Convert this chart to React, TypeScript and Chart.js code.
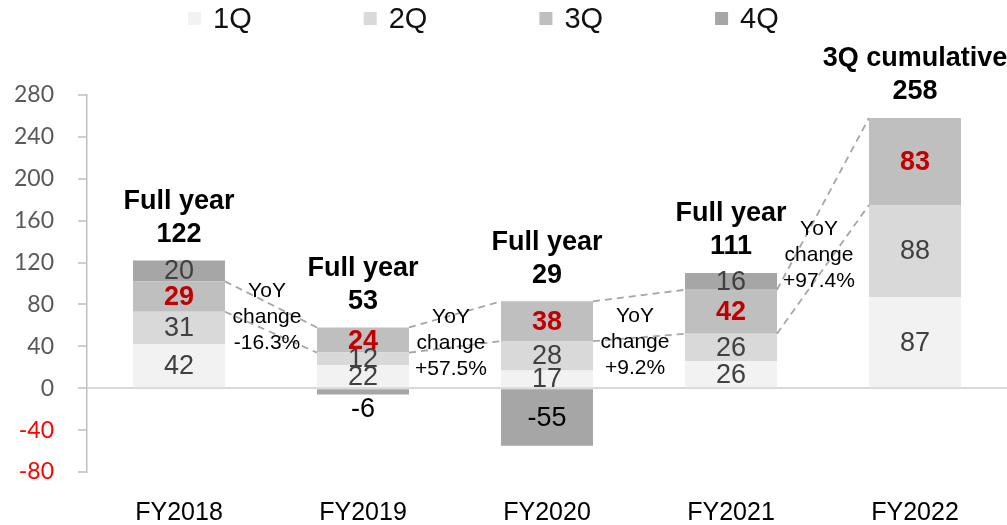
import React, { useEffect, useRef } from "react";
import { Chart, registerables } from "chart.js";

Chart.register(...registerables);

const categories = ["FY2018", "FY2019", "FY2020", "FY2021", "FY2022"];
const seriesNames = ["1Q", "2Q", "3Q", "4Q"];
const q1 = [42, 22, 17, 26, 87];
const q2 = [31, 12, 28, 26, 88];
const q3 = [29, 24, 38, 42, 83];
const q4 = [20, -6, -55, 16, null];
const totalTitles = ["Full year", "Full year", "Full year", "Full year", "3Q cumulative"];
const totals = [122, 53, 29, 111, 258];
const yoyChanges = ["-16.3%", "+57.5%", "+9.2%", "+97.4%"];
const yoyLabelAt = [68, 43, 44, 127];
const yMin = -80;
const yMax = 280;
const yStep = 40;

const seriesColors = ["#f2f2f2", "#d9d9d9", "#bfbfbf", "#a6a6a6"];
const FONT = "'Liberation Sans', Arial, sans-serif";

const annotPlugin = {
  id: "annot",
  afterDatasetsDraw(chart: any) {
    const ctx = chart.ctx as CanvasRenderingContext2D;
    const ys = chart.scales.y;
    const metas = chart.data.datasets.map((_: any, i: number) => chart.getDatasetMeta(i));
    ctx.save();

    // dashed connector lines (top of 3Q cumulative and 2Q cumulative)
    ctx.strokeStyle = "#a6a6a6";
    ctx.lineWidth = 1.8;
    ctx.setLineDash([7, 5]);
    for (let i = 0; i < categories.length - 1; i++) {
      for (const d of [2, 1]) {
        const a = metas[d].data[i];
        const b = metas[d].data[i + 1];
        ctx.beginPath();
        ctx.moveTo(a.x + a.width / 2, a.y);
        ctx.lineTo(b.x - b.width / 2, b.y);
        ctx.stroke();
      }
    }
    ctx.setLineDash([]);

    // segment labels
    ctx.textAlign = "center";
    ctx.textBaseline = "middle";
    chart.data.datasets.forEach((ds: any, d: number) => {
      metas[d].data.forEach((el: any, i: number) => {
        const v = ds.data[i];
        if (v === null || v === undefined) return;
        let y = (el.y + el.base) / 2;
        if (v < 0 && Math.abs(el.base - el.y) < 20) {
          y = Math.max(el.y, el.base) + 14;
        }
        if (d === 2) {
          ctx.font = `bold 27px ${FONT}`;
          ctx.fillStyle = "#c00000";
        } else if (v < 0) {
          ctx.font = `27px ${FONT}`;
          ctx.fillStyle = "#000000";
        } else {
          ctx.font = `27px ${FONT}`;
          ctx.fillStyle = "#404040";
        }
        ctx.fillText(String(v), el.x, y + 1);
      });
    });

    // totals above bars
    ctx.font = `bold 27px ${FONT}`;
    ctx.fillStyle = "#000000";
    categories.forEach((_, i) => {
      let top = Infinity;
      let x = 0;
      chart.data.datasets.forEach((ds: any, d: number) => {
        const v = ds.data[i];
        if (v !== null && v > 0) {
          const el = metas[d].data[i];
          top = Math.min(top, el.y);
          x = el.x;
        }
      });
      ctx.fillText(String(totals[i]), x, top - 26);
      ctx.fillText(totalTitles[i], x, top - 59);
    });

    // YoY change labels
    ctx.font = `21px ${FONT}`;
    ctx.fillStyle = "#000000";
    yoyChanges.forEach((txt, i) => {
      const a = metas[0].data[i];
      const b = metas[0].data[i + 1];
      const x = (a.x + a.width / 2 + b.x - b.width / 2) / 2 - 4;
      const cy = ys.getPixelForValue(yoyLabelAt[i]);
      ctx.fillText("YoY", x, cy - 26);
      ctx.fillText("change", x, cy);
      ctx.fillText(txt, x, cy + 26);
    });

    ctx.restore();
  },
  afterDraw(chart: any) {
    // legend
    const ctx = chart.ctx as CanvasRenderingContext2D;
    ctx.save();
    const startX = 188;
    const step = 175.7;
    ctx.textAlign = "left";
    ctx.textBaseline = "middle";
    ctx.font = `29px ${FONT}`;
    chart.data.datasets.forEach((ds: any, d: number) => {
      const x = startX + d * step;
      ctx.fillStyle = ds.backgroundColor;
      ctx.fillRect(x, 12, 13, 13);
      ctx.fillStyle = "#111111";
      ctx.fillText(ds.label, x + 25, 20);
    });
    ctx.restore();
  },
};

export default function App() {
  const canvasRef = useRef<HTMLCanvasElement | null>(null);

  useEffect(() => {
    const canvas = canvasRef.current;
    if (!canvas) return;
    const seriesData = [q1, q2, q3, q4];
    const chart = new Chart(canvas, {
      type: "bar",
      data: {
        labels: categories,
        datasets: seriesNames.map((name, i) => ({
          label: name,
          data: seriesData[i] as any,
          backgroundColor: seriesColors[i],
          borderWidth: 0,
          barPercentage: 0.5,
          categoryPercentage: 1,
        })),
      },
      options: {
        animation: false,
        responsive: true,
        maintainAspectRatio: false,
        layout: { padding: { top: 95, left: 0, right: 0, bottom: 0 } },
        plugins: {
          legend: { display: false },
          tooltip: { enabled: false },
        },
        scales: {
          x: {
            stacked: true,
            grid: { display: false },
            border: { display: false },
            ticks: {
              color: "#000000",
              font: { family: FONT, size: 25 },
              padding: 18,
            },
            afterFit: (scale: any) => {
              scale.height = 53;
            },
          },
          y: {
            stacked: true,
            min: yMin,
            max: yMax,
            ticks: {
              stepSize: yStep,
              padding: 24,
              color: (c: any) => (c.tick.value < 0 ? "#ff0000" : "#595959"),
              font: { family: "Lato, 'Open Sans', sans-serif", size: 23 },
            },
            grid: {
              color: (c: any) => (c.tick && c.tick.value === 0 ? "#d9d9d9" : "rgba(0,0,0,0)"),
              lineWidth: 2,
              tickColor: "#bfbfbf",
              tickLength: 9,
              tickWidth: 1.5,
            },
            border: { display: true, color: "#bfbfbf", width: 1.5 },
            afterFit: (scale: any) => {
              scale.width = 87;
            },
          },
        },
      },
      plugins: [annotPlugin],
    });
    return () => chart.destroy();
  }, []);

  return (
    <div style={{ position: "fixed", left: 0, top: 0, width: 1007, height: 525, background: "#ffffff" }}>
      <canvas ref={canvasRef} />
    </div>
  );
}
